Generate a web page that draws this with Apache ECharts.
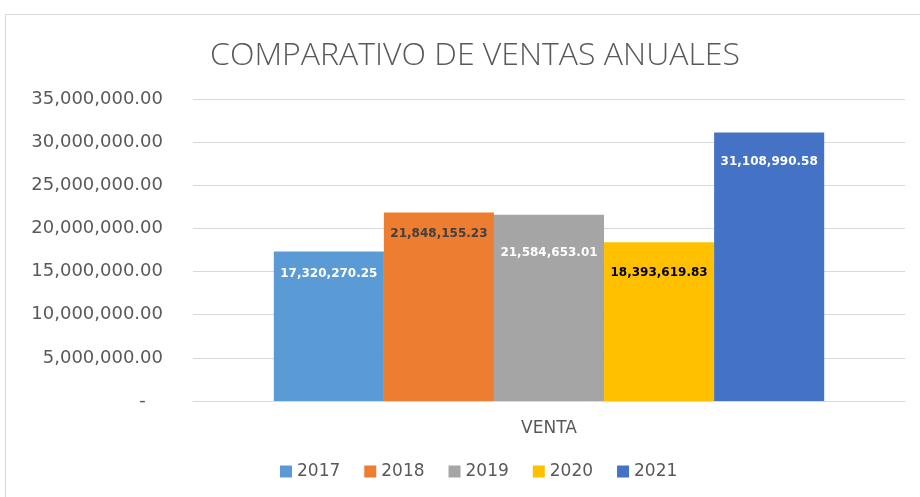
<!DOCTYPE html>
<html>
<head>
<meta charset="utf-8">
<script src="https://cdn.jsdelivr.net/npm/echarts@6/dist/echarts.min.js"></script>
<style>
  html, body { margin: 0; padding: 0; background: #fff; }
  #frame { position: absolute; left: 5px; top: 14px; width: 930px; height: 500px; border: 1px solid #d9d9d9; box-sizing: border-box; }
  #chart { position: absolute; left: 0; top: 0; width: 920px; height: 497px; }
</style>
</head>
<body>
<div id="frame"></div>
<div id="chart"></div>
<script>
const categories = ['VENTA']
const years = ['2017', '2018', '2019', '2020', '2021']
const sales = [17320270.25, 21848155.23, 21584653.01, 18393619.83, 31108990.58]
const barColors = ['#5b9bd5', '#ed7d31', '#a5a5a5', '#ffc000', '#4472c4']
const labelColors = ['#ffffff', '#404040', '#ffffff', '#000000', '#ffffff']
const labelDistances = [16, 15, 32, 25, 23]

const fmt = v => v.toLocaleString('en-US', { minimumFractionDigits: 2, maximumFractionDigits: 2 })
const textFont = 'DejaVu Sans'

const chart = echarts.init(document.getElementById('chart'))
chart.setOption({
  animation: false,
  title: {
    text: 'COMPARATIVO DE VENTAS ANUALES',
    left: 470,
    top: 35,
    textAlign: 'center',
    textStyle: { fontFamily: 'Open Sans', fontSize: 32, fontWeight: 300, color: '#595959' }
  },
  legend: {
    bottom: 12,
    left: 275,
    itemWidth: 12,
    itemHeight: 12,
    itemGap: 24,
    icon: 'rect',
    textStyle: { fontFamily: textFont, fontSize: 17, color: '#595959' },
    data: years
  },
  grid: { left: 193, right: 15, top: 99, bottom: 96 },
  xAxis: {
    type: 'category',
    data: categories,
    axisLine: { lineStyle: { color: '#d9d9d9' } },
    axisTick: { show: false },
    axisLabel: { margin: 19, fontFamily: textFont, fontSize: 17, color: '#595959' }
  },
  yAxis: {
    type: 'value',
    min: 0,
    max: 35000000,
    interval: 5000000,
    axisLine: { show: false },
    axisTick: { show: false },
    splitLine: { lineStyle: { color: '#d9d9d9' } },
    axisLabel: {
      margin: 30,
      fontFamily: textFont,
      fontSize: 18,
      color: '#595959',
      formatter: v => v === 0 ? '-   ' : fmt(v)
    }
  },
  series: years.map((y, i) => ({
    name: y,
    type: 'bar',
    barGap: 0,
    barCategoryGap: '22.7%',
    itemStyle: { color: barColors[i] },
    label: {
      show: true,
      position: 'insideTop',
      distance: labelDistances[i],
      formatter: p => fmt(p.value),
      fontFamily: textFont,
      fontWeight: 'bold',
      fontSize: 12,
      color: labelColors[i]
    },
    data: [sales[i]]
  }))
})
</script>
</body>
</html>
